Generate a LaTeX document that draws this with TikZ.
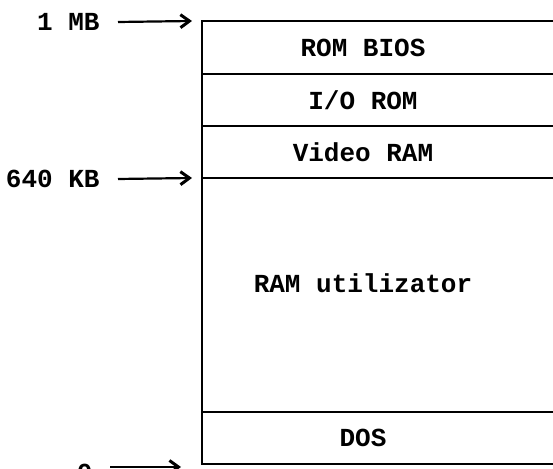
\documentclass[tikz,border=0pt]{standalone}
\usepackage{fontspec}
\setmonofont{Liberation Mono}
\usetikzlibrary{positioning,arrows.meta}
\tikzset{
mem/.style={font=\ttfamily\bfseries\fontsize{13}{15}\selectfont},
addr/.style={mem, anchor=east, inner sep=0pt},
ptr/.style={line width=1.1pt, -{Straight Barb[length=4.5pt,width=6.5pt,line width=1.5pt]}},
wall/.style={line width=1.4pt}
}
\begin{document}
\begin{tikzpicture}[x=0.5pt,y=-0.5pt]
\useasboundingbox (0,0) rectangle (553,469);
\clip (0,0) rectangle (553,469);
\coordinate(t1) at (202,21);
\coordinate(t2) at (202,74);
\coordinate(t3) at (202,126);
\coordinate(t4) at (202,178);
\coordinate(t5) at (202,412);
\coordinate(t6) at (202,464);
\coordinate(e1) at (556,21);
\coordinate(e2) at (556,74);
\coordinate(e3) at (556,126);
\coordinate(e4) at (556,178);
\coordinate(e5) at (556,412);
\coordinate(e6) at (556,464);
\draw[wall](e1)--(t1)--(t6)--(e6);
\draw[wall](t2)--(e2);
\draw[wall](t3)--(e3);
\draw[wall](t4)--(e4);
\draw[wall](t5)--(e5);
\node[mem](bios) at (363,48){ROM BIOS};
\node[mem](io) at (363,100){I/O ROM};
\node[mem](vid) at (363,152){Video RAM};
\node[mem](user) at (363,283){RAM utilizator};
\node[mem](dos) at (363,438){DOS};
\node[addr](a1) at (100,22){1 MB};
\node[addr](a2) at (100,179){640 KB};
\node[addr](a3) at (93,473){0};
\coordinate[right=9pt of a1.east](p1);
\coordinate[right=9pt of a2.east](p2);
\coordinate(p3) at (110,467);
\coordinate(q1) at (192,21);
\coordinate(q2) at (192,178);
\coordinate(q3) at (181,467);
\draw[ptr](p1)--(q1);
\draw[ptr](p2)--(q2);
\draw[ptr](p3)--(q3);
\end{tikzpicture}
\end{document}
